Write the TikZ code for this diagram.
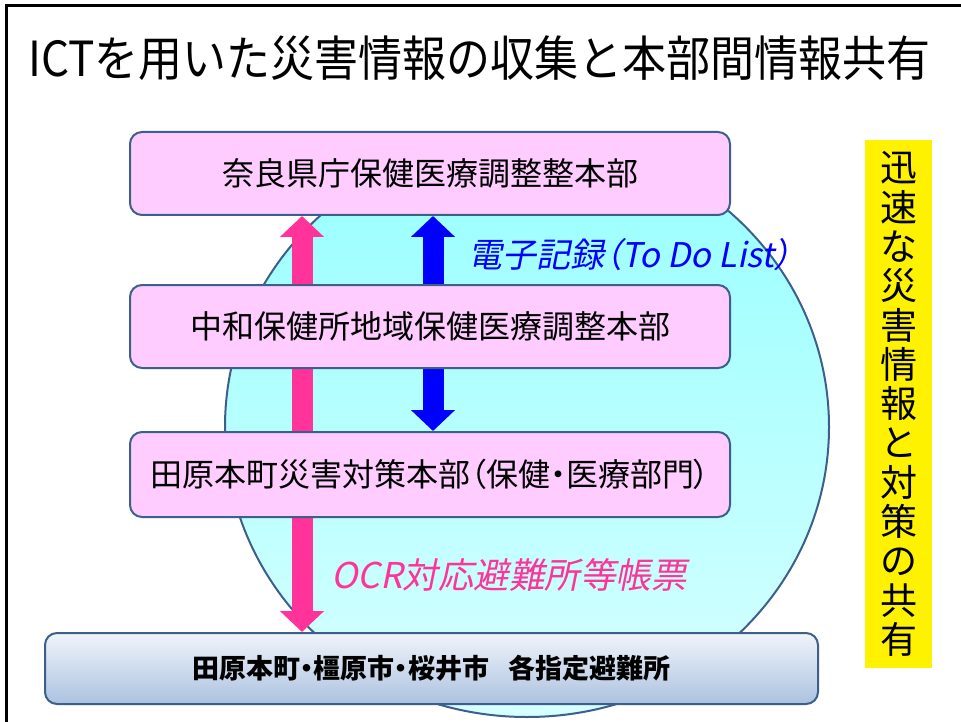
\documentclass[tikz,border=0pt]{standalone}
\usepackage{fontspec}
\setmainfont{Noto Sans CJK JP}
\newfontfamily\jpp[RawFeature=+palt]{Noto Sans CJK JP}
\newfontfamily\jpit[FakeSlant=0.2,RawFeature=+palt]{Noto Sans CJK JP}
\usetikzlibrary{arrows.meta,backgrounds}
\definecolor{boxpink}{RGB}{255,204,255}
\definecolor{edge}{RGB}{60,95,140}
\definecolor{hotpink}{RGB}{255,51,153}
\definecolor{cyantop}{RGB}{150,255,255}
\definecolor{cyanbot}{RGB}{215,255,255}
\definecolor{bluetop}{RGB}{240,244,250}
\definecolor{bluebot}{RGB}{172,194,224}
\tikzset{
  hq/.style={draw=edge, line width=2pt, rounded corners=12pt, fill=boxpink,
    minimum width=600pt, minimum height=83pt, inner sep=0pt,
    font=\jpp\fontsize{32}{36}\selectfont},
  shelter/.style={draw=edge, line width=2pt, rounded corners=12pt,
    top color=bluetop, bottom color=bluebot,
    minimum width=773pt, minimum height=71pt, inner sep=0pt,
    font=\jpp\bfseries\fontsize{27}{32}\selectfont},
  blockarrow/.style={line width=21pt,
    {Triangle[width=43pt,length=21pt]}-{Triangle[width=43pt,length=21pt]}},
  label/.style={anchor=west, inner sep=0pt},
}
\begin{document}
\begin{tikzpicture}[x=1pt,y=-1pt]
\useasboundingbox (0,0) rectangle (961,722);
\draw[line width=3pt] (6,722) -- (6,6) -- (961,6);

\node[anchor=west, inner sep=0pt, font=\fontsize{44}{50}\selectfont, yscale=1.1] (title) at (28,58)
  {ICTを用いた災害情報の収集と本部間情報共有};

\node[hq] (pref) at (430,173.5) {奈良県庁保健医療調整整本部};
\node[hq] (center) at (430,326.5) {中和保健所地域保健医療調整本部};
\node[hq, minimum height=85pt] (town) at (430,474.5) {田原本町災害対策本部（保健・医療部門）};
\node[shelter] (shelter) at (431.5,668.5) {田原本町・橿原市・桜井市\hspace{20pt}各指定避難所};

\coordinate (pinkx) at (302,0);
\coordinate (bluex) at (433,0);

\begin{scope}[on background layer]
  \fill[white] (0,0) rectangle (961,722);
  \shade[top color=cyantop, bottom color=cyanbot, draw=edge, line width=2pt]
    (527,427) ellipse [x radius=302pt, y radius=290pt];
  \draw[blockarrow, hotpink] (pref.south -| pinkx) -- (shelter.north -| pinkx);
  \draw[blockarrow, blue] (pref.south -| bluex) -- (town.north -| bluex);
\end{scope}

\node[label, text=blue, font=\jpit\fontsize{34}{38}\selectfont] (rec) at (468,255)
  {電子記録（To Do List）};
\node[label, text=hotpink, font=\jpit\fontsize{35.5}{40}\selectfont] (ocr) at (331,575)
  {OCR対応避難所等帳票};

\node[fill=yellow, minimum width=67pt, minimum height=528pt, inner sep=0pt,
  align=center, font=\fontsize{37}{39.3}\selectfont] (share) at (898.5,404)
  {迅\\速\\な\\災\\害\\情\\報\\と\\対\\策\\の\\共\\有};
\end{tikzpicture}
\end{document}
